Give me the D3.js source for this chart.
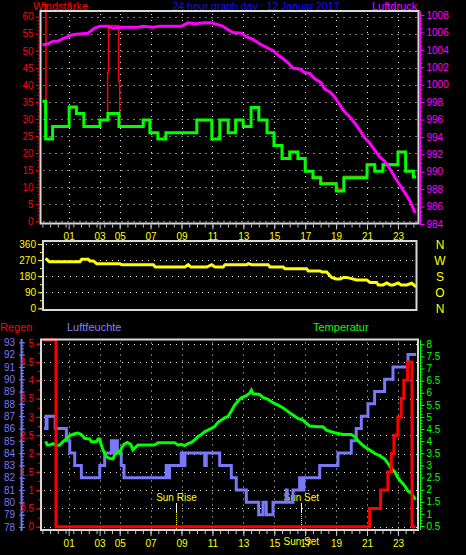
<!DOCTYPE html>
<html><head><meta charset="utf-8">
<script src="https://cdn.jsdelivr.net/npm/d3@7/dist/d3.min.js"></script>
<style>
html,body{margin:0;padding:0;background:#000;}
svg{display:block;}
</style></head><body><svg id="c" width="466" height="555"></svg>
<script>
// ---------------- DATA ----------------
const title = "24 hour graph day : 12 Januar 2017";
const xTickHours  = [1.7, 3.7, 5, 7, 9, 11, 13, 15, 17, 19, 21, 23];
const xTickLabels = ["01","03","05","07","09","11","13","15","17","19","21","23"];
const windTicks = [0,5,10,15,20,25,30,35,40,45,50,55,60];
const pressureTicks = [984,986,988,990,992,994,996,998,1000,1002,1004,1006,1008];
const dirTicks = [0,90,180,270,360];
const dirLetters = ["N","O","S","W","N"];
const rainTicks = [0,0.5,1,1.5,2,2.5,3,3.5,4,4.5,5];
const humTicks = [78,79,80,81,82,83,84,85,86,87,88,89,90,91,92,93];
const tempTicks = [0.5,1,1.5,2,2.5,3,3.5,4,4.5,5,5.5,6,6.5,7,7.5,8];
const sunHours = [8.67, 16.75];
const sunLabels = ["Sun Rise", "Sun Set"];

// wind speed (km/h), step series [hour, value]
const windSpeed = [[0.10,35.2],[0.21,24.1],[0.66,27.8],[1.73,33.5],[2.2,31.6],[2.68,27.8],[3.72,29.7],[4.24,31.6],[4.95,27.8],[6.52,29.7],[6.95,26.0],[7.47,24.1],[7.99,26.0],[9.99,29.7],[10.96,24.1],[11.48,29.7],[12.02,26.0],[12.5,29.7],[12.99,27.8],[13.5,33.4],[14.0,29.7],[14.53,26.0],[14.98,22.2],[15.5,18.4],[16.0,20.3],[16.53,18.4],[17.0,14.7],[17.5,12.8],[18.0,11.0],[19.01,8.9],[19.5,12.8],[21.0,16.6],[21.5,14.7],[22.03,16.6],[23.0,20.3],[23.5,14.7],[24.0,13.0],[24.08,13.0]];
// gusts (km/h)
const windGust = [[0.02,63.5],[0.23,35.2],[0.26,24.1],[0.66,27.8],[1.73,33.2],[2.2,31.5],[2.72,27.6],[3.72,29.7],[4.2,31.6],[4.22,43.7],[4.28,57.4],[4.93,41.0],[5.0,27.8],[6.52,29.7],[7.0,26.0],[7.47,24.1],[7.99,26.0],[9.99,29.7],[11.0,24.1],[11.48,29.7],[12.02,26.0],[12.5,29.7],[12.99,28.2],[13.1,27.8],[13.5,33.2],[14.0,29.7],[14.55,26.0],[15.02,22.2],[15.5,18.4],[16.0,20.5],[16.53,18.4],[17.04,14.7],[17.5,13.2],[18.0,11.3],[19.01,9.5],[19.5,13.2],[21.0,16.9],[21.5,14.7],[22.03,16.9],[23.0,20.5],[23.5,14.9],[24.0,13.2],[24.08,13.2]];
// pressure (hPa)
const pressure = [[0.10,1004.6],[0.36,1004.7],[0.69,1005.0],[1.01,1005.0],[1.33,1005.3],[1.66,1005.5],[1.87,1005.7],[2.19,1005.8],[2.95,1005.9],[3.16,1006.2],[3.38,1006.5],[3.71,1006.7],[4.24,1006.7],[4.57,1006.5],[5.10,1006.6],[6.18,1006.6],[6.51,1006.7],[7.15,1006.6],[7.59,1006.7],[8.99,1006.7],[9.20,1006.9],[9.42,1007.1],[9.85,1007.0],[10.50,1007.1],[10.93,1007.1],[11.36,1006.9],[11.68,1006.7],[12.01,1006.3],[12.33,1006.0],[12.87,1005.9],[13.19,1005.5],[13.62,1005.2],[14.05,1004.7],[14.48,1004.3],[14.92,1003.9],[15.24,1003.4],[15.56,1003.0],[15.89,1002.5],[16.21,1001.9],[16.64,1001.8],[16.97,1001.4],[17.29,1001.3],[17.61,1000.7],[18.04,1000.2],[18.26,999.5],[18.58,999.2],[18.91,998.6],[19.23,997.7],[19.55,996.9],[19.88,996.3],[20.2,995.6],[20.52,994.8],[20.85,993.9],[21.17,993.3],[21.49,992.5],[21.82,991.7],[22.14,991.2],[22.46,990.4],[22.79,989.4],[23.11,988.5],[23.44,987.6],[23.76,986.7],[24.08,985.4]];
// wind direction (degrees)
const windDir = [[0.28,274],[0.45,261],[2.43,261],[2.54,274],[2.97,274],[3.08,265],[3.3,265],[3.51,250],[5.02,250],[5.13,244],[7.18,244],[7.3,231],[9.22,231],[9.44,244],[9.6,231],[10.63,231],[10.95,244],[11.16,231],[11.7,231],[11.81,244],[13.21,244],[13.32,250],[13.54,244],[14.61,244],[14.72,231],[15.58,231],[15.69,222],[17.09,222],[17.2,209],[17.96,209],[18.1,203],[18.39,203],[18.49,194],[18.71,173],[19.0,164],[19.25,164],[19.5,173],[19.68,173],[20.0,166],[20.33,159],[20.98,159],[21.19,145],[21.62,145],[21.73,131],[22.05,131],[22.27,142],[22.5,131],[22.7,131],[23.02,142],[23.2,131],[23.56,131],[23.89,140],[24.1,125]];
// rain (mm), step series
const rain = [[0.17,5.1],[0.88,0],[21.17,0.5],[21.88,1.0],[22.35,1.5],[22.57,2.0],[22.74,2.5],[23.0,3.0],[23.21,3.5],[23.38,4.0],[23.62,4.5],[23.91,0],[24.05,0]];
// humidity (%), step series
const humidity = [[0.2,86],[0.24,87],[0.27,86],[0.3,87],[0.83,86],[1.55,85],[1.77,84],[2.09,83],[2.52,82],[3.71,83],[4.03,84],[4.46,85],[4.52,84],[4.58,85],[4.64,84],[4.7,85],[4.76,84],[4.82,85],[4.85,84],[5.10,83],[5.28,82],[8.01,83],[8.06,82],[8.11,83],[8.16,82],[8.23,83],[8.98,84],[9.04,83],[9.1,84],[9.16,83],[9.22,84],[10.5,83],[10.6,84],[11.47,83],[12.22,82],[12.54,81],[13.19,80],[13.99,79],[14.27,80],[14.48,79],[14.92,80],[15.78,81],[15.84,80],[16.21,81],[16.64,82],[16.7,81],[16.76,82],[16.82,81],[16.92,82],[17.94,83],[19.12,84],[19.98,85],[20.3,86],[20.63,87],[21.06,88],[21.49,89],[22.14,90],[22.68,91],[23.65,92],[24.08,92]];
// temperature (°C)
const temperature = [[0.25,3.94],[0.32,3.84],[0.47,3.84],[0.69,3.9],[0.9,3.82],[1.12,3.84],[1.33,3.98],[1.55,4.09],[1.76,4.23],[2.09,4.31],[2.3,4.34],[2.52,4.28],[2.73,4.12],[3.06,4.09],[3.17,3.98],[3.49,3.98],[3.6,4.09],[3.7,4.09],[3.81,3.84],[3.92,3.64],[4.14,3.36],[4.35,3.29],[4.57,3.27],[4.67,3.43],[4.89,3.57],[5.0,3.5],[5.11,3.71],[5.28,3.87],[5.49,3.95],[5.71,3.87],[5.86,3.64],[5.96,3.71],[6.18,3.84],[7.26,3.84],[7.48,3.94],[8.56,3.94],[8.77,3.84],[8.99,3.87],[9.2,3.82],[9.42,3.9],[9.63,3.95],[9.85,4.05],[10.06,4.19],[10.28,4.28],[10.5,4.39],[10.71,4.46],[10.93,4.53],[11.14,4.6],[11.36,4.78],[11.57,4.87],[11.79,4.96],[12.01,5.02],[12.22,5.25],[12.44,5.49],[12.65,5.66],[12.87,5.79],[13.19,5.88],[13.41,5.98],[13.52,6.11],[13.62,5.96],[14.05,5.93],[14.27,5.81],[14.59,5.73],[14.92,5.59],[15.24,5.49],[15.56,5.38],[15.89,5.22],[16.21,5.08],[16.53,4.94],[16.86,4.87],[17.07,4.74],[17.29,4.63],[17.83,4.6],[18.15,4.6],[18.37,4.46],[18.9,4.35],[19.44,4.28],[19.98,4.28],[20.2,4.19],[20.52,3.95],[20.85,3.77],[21.17,3.64],[21.49,3.5],[21.82,3.4],[22.14,3.27],[22.35,3.09],[22.57,2.88],[22.79,2.74],[23.0,2.49],[23.21,2.33],[23.44,2.16],[23.65,1.94],[23.87,1.85],[24.08,1.64]];

// ---------------- LAYOUT ----------------
const FONT = '"Liberation Sans Narrow","Liberation Sans",Arial,sans-serif';
const svg = d3.select("#c");
svg.append("rect").attr("width",466).attr("height",555).attr("fill","#000");

const P1 = {l:40.5, r:418.5, t:11, b:223.5};
const P2 = {l:43, r:416.5, t:241, b:310};
const P3 = {l:41, r:418, t:339.5, b:530};

const x = d3.scaleLinear().domain([0,24]).range([42.4,413.4]);
const yWind = d3.scaleLinear().domain([0,60]).range([221.3,16.7]);
const yPress = d3.scaleLinear().domain([984,1008]).range([224,15]);
const yDir = d3.scaleLinear().domain([0,360]).range([308.3,244]);
const yRain = d3.scaleLinear().domain([0,5]).range([526.7,343.7]);
const yHum = d3.scaleLinear().domain([78,93]).range([527,342.3]);
const yTemp = d3.scaleLinear().domain([0.5,8]).range([526,344.3]);

function styleAxis(g, color, size){
  g.select(".domain").remove();
  g.attr("font-family", null).attr("font-size", null);
  g.selectAll("line").attr("stroke", color).attr("stroke-width",1);
  g.selectAll("text").attr("fill", color).style("font-family", FONT).style("font-size", size+"px");
}
function label(txt, xx, yy, color, size, anchor){
  svg.append("text").attr("x",xx).attr("y",yy).attr("fill",color)
    .attr("text-anchor",anchor||"start").style("font-family",'"Liberation Sans",Arial,sans-serif')
    .style("font-size",size+"px").text(txt);
}
function hGrid(P, scale, vals){
  svg.append("g").selectAll("line").data(vals).join("line")
    .attr("x1",P.l+3).attr("x2",P.r-1)
    .attr("y1",d=>Math.round(scale(d))+0.5).attr("y2",d=>Math.round(scale(d))+0.5)
    .attr("stroke","#e8e8e8").attr("stroke-width",1).attr("stroke-dasharray","1,5");
}
function vGrid(P){
  svg.append("g").selectAll("line").data(xTickHours).join("line")
    .attr("x1",d=>Math.round(x(d))+0.5).attr("x2",d=>Math.round(x(d))+0.5)
    .attr("y1",P.t+3).attr("y2",P.b-1)
    .attr("stroke","#e8e8e8").attr("stroke-width",1).attr("stroke-dasharray","1,5");
}
function frame(P){
  svg.append("rect").attr("x",P.l).attr("y",P.t).attr("width",P.r-P.l).attr("height",P.b-P.t)
    .attr("fill","none").attr("stroke","#d8d8d8").attr("stroke-width",2);
}
function xAxis(P, labelPad){
  const gm = svg.append("g").attr("transform",`translate(0,${P.b+1})`)
    .call(d3.axisBottom(x).tickValues(d3.range(0,24.01,0.5)).tickSize(3).tickFormat(""));
  styleAxis(gm,"#c8c8c8",9);
  const g = svg.append("g").attr("transform",`translate(0,${P.b+1})`)
    .call(d3.axisBottom(x).tickValues(xTickHours).tickSize(5).tickPadding(labelPad).tickFormat((d,i)=>xTickLabels[i]));
  styleAxis(g,"#c8c8c8",10);
  g.selectAll("text").attr("fill","#ffff00");
}
function line(data, xs, ys, color, w, curve){
  svg.append("path").datum(data)
    .attr("d", d3.line().x(d=>xs(d[0])).y(d=>ys(d[1])).curve(curve||d3.curveLinear))
    .attr("fill","none").attr("stroke",color).attr("stroke-width",w)
    .attr("stroke-linejoin","miter").attr("stroke-linecap","square");
}

// ---------------- TITLES ----------------
label("Windstärke", 33, 10, "#ff0000", 11);
label(title, 256, 10, "#1010f0", 10.5, "middle");
label("Luftdruck", 372, 10, "#ff00ff", 11);

// ---------------- TOP PANEL ----------------
hGrid(P1, yWind, windTicks);
vGrid(P1);
line(windGust, x, yWind, "#ff0000", 1.5, d3.curveStepAfter);
line(windSpeed, x, yWind, "#00ff00", 3, d3.curveStepAfter);
line(pressure, x, yPress, "#ff00ff", 3);
frame(P1);
{
  const gm = svg.append("g").attr("transform",`translate(${P1.l-1},0)`)
    .call(d3.axisLeft(yWind).tickValues(d3.range(0,60.1,1)).tickSize(2).tickFormat(""));
  styleAxis(gm,"#ff0000",9);
  const g = svg.append("g").attr("transform",`translate(${P1.l-1},0)`)
    .call(d3.axisLeft(yWind).tickValues(windTicks).tickSize(4).tickPadding(2));
  styleAxis(g,"#ff0000",10);
  svg.append("line").attr("x1",420.5).attr("x2",420.5).attr("y1",11).attr("y2",225)
    .attr("stroke","#ff00ff").attr("stroke-width",1);
  const pm = svg.append("g").attr("transform","translate(420.5,0)")
    .call(d3.axisRight(yPress).tickValues(d3.range(984,1008.01,0.5)).tickSize(2).tickFormat(""));
  styleAxis(pm,"#ff00ff",9);
  const p = svg.append("g").attr("transform","translate(420.5,0)")
    .call(d3.axisRight(yPress).tickValues(pressureTicks).tickSize(4).tickPadding(2).tickFormat(d=>d));
  styleAxis(p,"#ff00ff",10);
}
xAxis(P1, 3);

// ---------------- MIDDLE PANEL ----------------
hGrid(P2, yDir, [90,180,270,360]);
line(windDir, x, yDir, "#ffff00", 3);
frame(P2);
{
  const gm = svg.append("g").attr("transform",`translate(${P2.l-1},0)`)
    .call(d3.axisLeft(yDir).tickValues(d3.range(0,361,45)).tickSize(2).tickFormat(""));
  styleAxis(gm,"#ffff00",9);
  const g = svg.append("g").attr("transform",`translate(${P2.l-1},0)`)
    .call(d3.axisLeft(yDir).tickValues(dirTicks).tickSize(4).tickPadding(2));
  styleAxis(g,"#ffff00",10);
  svg.append("g").selectAll("text").data(dirTicks).join("text")
    .attr("x",440).attr("y",d=>yDir(d)+4.5).attr("text-anchor","middle")
    .attr("fill","#ffff00").style("font-family",'"Liberation Sans",Arial,sans-serif').style("font-size","12px")
    .text((d,i)=>dirLetters[i]);
}

// ---------------- BOTTOM PANEL ----------------
label("Regen", 0, 331, "#ff0000", 11);
label("Luftfeuchte", 67, 331, "#8080ff", 11);
label("Temperatur", 313, 331, "#00ff00", 11);

hGrid(P3, yRain, rainTicks);
vGrid(P3);
// sun rise / sun set markers
sunHours.forEach((h,i)=>{
  const xx = Math.round(x(h))+0.5;
  svg.append("line").attr("x1",xx).attr("x2",xx).attr("y1",503).attr("y2",512)
    .attr("stroke","#ffffff").attr("stroke-width",1);
  svg.append("line").attr("x1",xx).attr("x2",xx).attr("y1",512).attr("y2",P3.b-1)
    .attr("stroke","#ffff00").attr("stroke-width",1).attr("stroke-dasharray","1,1");
  label(sunLabels[i], x(h), 501, "#ffff00", 10, "middle");
});
line(humidity, x, yHum, "#7878f8", 3, d3.curveStepAfter);
line(temperature, x, yTemp, "#00ff00", 3);
line(rain, x, yRain, "#ff0000", 3, d3.curveStepAfter);
frame(P3);
{
  // humidity axis
  svg.append("line").attr("x1",21.5).attr("x2",21.5).attr("y1",339).attr("y2",531)
    .attr("stroke","#7878f8").attr("stroke-width",2);
  const hm = svg.append("g").attr("transform","translate(21.5,0)")
    .call(d3.axisRight(yHum).tickValues(d3.range(78,93.01,0.25)).tickSize(2.5).tickFormat(""));
  styleAxis(hm,"#7878f8",9);
  const h = svg.append("g").attr("transform","translate(19,0)")
    .call(d3.axisLeft(yHum).tickValues(humTicks).tickSizeInner(-6).tickSizeOuter(0).tickPadding(4));
  styleAxis(h,"#7878f8",10);
  // rain axis
  const rm = svg.append("g").attr("transform",`translate(${P3.l-1},0)`)
    .call(d3.axisLeft(yRain).tickValues(d3.range(0,5.01,0.25)).tickSize(2).tickFormat(""));
  styleAxis(rm,"#ff0000",9);
  const r = svg.append("g").attr("transform",`translate(${P3.l-1},0)`)
    .call(d3.axisLeft(yRain).tickValues(rainTicks).tickSize(4).tickPadding(2).tickFormat(d=>String(d)));
  styleAxis(r,"#ff0000",10);
  // temperature axis
  svg.append("line").attr("x1",420.5).attr("x2",420.5).attr("y1",340).attr("y2",530)
    .attr("stroke","#00ff00").attr("stroke-width",1);
  const tm = svg.append("g").attr("transform","translate(420.5,0)")
    .call(d3.axisRight(yTemp).tickValues(d3.range(0.5,8.01,0.125)).tickSize(2).tickFormat(""));
  styleAxis(tm,"#00ff00",9);
  const t = svg.append("g").attr("transform","translate(420.5,0)")
    .call(d3.axisRight(yTemp).tickValues(tempTicks).tickSize(4).tickPadding(2).tickFormat(d=>String(d)));
  styleAxis(t,"#00ff00",10);
}
xAxis(P3, 4);
label(sunLabels[1], x(sunHours[1]), 545, "#ffff00", 10, "middle");
</script></body></html>
